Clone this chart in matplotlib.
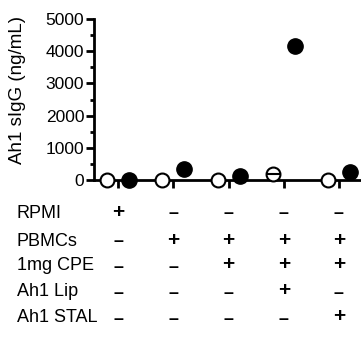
import matplotlib.pyplot as plt
from matplotlib.ticker import MultipleLocator
from matplotlib.transforms import blended_transform_factory

plt.rcParams['font.family'] = ['Liberation Sans', 'DejaVu Sans']

groups = [0, 1, 2, 3, 4]
open_vals = [0, 0, 0, 190, 0]
filled_vals = [10, 340, 130, 4160, 250]

row_labels = ['RPMI', 'PBMCs', '1mg CPE', 'Ah1 Lip', 'Ah1 STAL']
signs = [
    ['+', '-', '-', '-', '-'],
    ['-', '+', '+', '+', '+'],
    ['-', '-', '+', '+', '+'],
    ['-', '-', '-', '+', '-'],
    ['-', '-', '-', '-', '+'],
]

fig = plt.figure(figsize=(3.61, 3.41), dpi=100)
W, H = 361, 341
ax = fig.add_axes([94 / W, 1 - 180 / H, 267 / W, 161 / H])

off = 0.2
ax.plot([g - off for g in groups], open_vals, 'o', ms=10, mfc='white',
        mec='black', mew=1.5, clip_on=False, zorder=3)
ax.plot([groups[3] - off], [open_vals[3]], '_', ms=10, mec='black', mew=1.5,
        clip_on=False, zorder=4)
ax.plot([g + off for g in groups], filled_vals, 'o', ms=11, mfc='black',
        mec='black', clip_on=False, zorder=3)

ax.set_xlim(-0.44, 4.4)
ax.set_ylim(0, 5000)
ax.set_xticks(groups)
ax.set_xticklabels([])
ax.yaxis.set_major_locator(MultipleLocator(1000))
ax.yaxis.set_minor_locator(MultipleLocator(500))
for s in ['top', 'right']:
    ax.spines[s].set_visible(False)
for s in ['left', 'bottom']:
    ax.spines[s].set_linewidth(2)
ax.tick_params(axis='both', which='major', length=6, width=2, labelsize=12.5, pad=1)
ax.tick_params(axis='y', which='minor', length=3, width=2)
ax.set_ylabel('Ah1 sIgG (ng/mL)', fontsize=13.5)
ax.yaxis.set_label_coords(-68 / 267, 0.56)

tr = blended_transform_factory(ax.transData, fig.transFigure)
row_y = [213, 241, 266, 292, 318]
for r, (lab, yp) in enumerate(zip(row_labels, row_y)):
    fig.text(17 / W, 1 - yp / H, lab, fontsize=13, ha='left', va='center')
    for g, s in zip(groups, signs[r]):
        if s == '+':
            ax.text(g, 1 - (yp - 1) / H, '+', transform=tr, fontsize=15,
                    fontweight='bold', ha='center', va='center')
        else:
            ax.text(g, 1 - (yp + 1) / H, '\u2013', transform=tr, fontsize=13,
                    fontweight='bold', ha='center', va='center')

fig.savefig('out.png', dpi=100)
